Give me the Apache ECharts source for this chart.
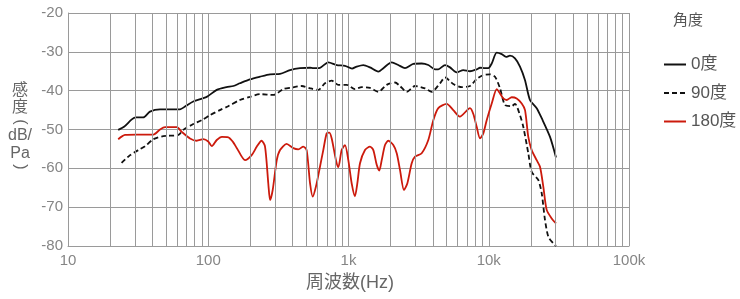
<!DOCTYPE html>
<html><head><meta charset="utf-8">
<script src="https://cdn.jsdelivr.net/npm/echarts@6/dist/echarts.min.js"></script>
<style>html,body{margin:0;padding:0;background:#fff}#c{width:740px;height:299px}</style>
</head><body><div id="c"></div>
<script>
// Frequencies (Hz) and sensitivity (dB/Pa)
const freq0 = [22.8,25.1,28.5,30.5,34.4,38.4,45.3,62.9,68.3,78.2,97.5,115,135,151,168,198,234,276,325,383,451,532,561,626,718,824,944,1060,1144,1275,1423,1632,1771,2033,2265,2529,2898,3326,3707,4139,4368,4876,5294,5908,6585,7350,8204,8661,9400,9930,10500,11400,12370,13280,14170,15380,16700,18140,19680,21970,23850,27340,30170];
const level0 = [-50.1,-49.3,-47.4,-46.9,-46.9,-45.4,-44.8,-44.8,-44.1,-42.8,-41.6,-39.8,-39.1,-38.8,-38.1,-37.1,-36.4,-35.8,-35.7,-34.7,-34.2,-34.1,-34.2,-34.1,-32.7,-33.4,-33.6,-34.3,-33.8,-33.4,-34.0,-35.1,-34.2,-32.7,-33.4,-34.2,-33.1,-33.0,-33.4,-34.5,-34.5,-33.4,-34.0,-35.3,-34.7,-35.0,-34.5,-34.1,-34.2,-34.2,-33.0,-30.2,-30.6,-31.3,-31.0,-31.7,-33.8,-37.3,-42.4,-44.5,-47.1,-51.9,-57.2];

const freq90 = [24.1,27.7,31.7,35.4,40.6,47.8,61.2,66.4,78.2,89.8,103,121,139,168,198,234,291,343,394,464,532,609,680,759,846,971,1112,1242,1423,1632,1872,2146,2329,2600,2980,3512,3920,4490,4876,5585,6414,7350,8204,9145,10200,11080,12030,13060,14570,15380,16700,17630,19140,20240,22550,23850,25180,26590,28850,30170];
const level90 = [-58.6,-56.6,-55.3,-54.3,-52.5,-51.7,-51.4,-50.1,-48.6,-47.6,-46.3,-45.0,-44.0,-42.4,-41.6,-40.9,-41.1,-39.6,-39.2,-38.8,-39.4,-39.8,-38.1,-37.4,-38.5,-38.5,-39.6,-39.1,-39.3,-40.3,-38.5,-37.9,-38.8,-40.3,-38.8,-39.4,-40.3,-38.1,-36.6,-38.3,-39.1,-38.8,-37.0,-36.0,-35.8,-36.4,-39.4,-43.7,-44.0,-43.4,-46.3,-49.3,-56.1,-60.9,-63.0,-66.4,-73.3,-77.6,-79.3,-80.0];

const freq180 = [22.8,25.5,30.9,40.6,45.3,49.2,59.6,64.7,74.1,82.7,92.2,100,106,115,125,139,150,160,183,204,222,240,254,268,276,288,308,325,362,404,439,476,503,532,556,586,626,661,699,730,759,814,846,894,944,997,1054,1112,1156,1208,1311,1423,1503,1589,1658,1725,1821,1922,2086,2207,2329,2487,2626,2823,2980,3326,3707,4024,4368,5012,5585,6222,7350,7762,8204,8661,9145,9670,10500,11400,12030,12700,13430,14570,15820,17180,18140,19140,20240,21970,23200,24490,25890,28110,30170];
const level180 = [-52.5,-51.4,-51.3,-51.3,-50.0,-49.4,-49.4,-50.6,-52.3,-52.9,-52.5,-53.1,-54.3,-52.7,-51.9,-52.0,-53.2,-54.8,-57.9,-56.6,-54.4,-52.9,-54.4,-63.9,-68.2,-65.6,-57.9,-55.3,-53.7,-54.8,-55.1,-54.4,-55.3,-63.9,-67.3,-64.7,-59.6,-55.3,-51.0,-50.8,-52.3,-57.9,-59.7,-55.3,-54.0,-57.9,-63.9,-67.2,-63.9,-58.7,-55.3,-54.4,-55.3,-59.1,-60.6,-57.9,-54.0,-52.9,-54.0,-56.1,-60.4,-65.6,-63.9,-58.7,-57.0,-56.1,-52.7,-47.6,-44.5,-43.4,-45.0,-46.7,-44.5,-46.0,-49.3,-52.3,-51.0,-47.6,-43.3,-39.6,-40.7,-42.0,-42.4,-41.7,-42.0,-43.3,-45.0,-51.9,-55.3,-57.9,-59.6,-64.7,-70.7,-72.9,-74.2];

const seriesNames = ['0度','90度','180度'];
const xTickLabels = {10:'10',100:'100',1000:'1k',10000:'10k',100000:'100k'};
const minorGrid = [20,30,40,50,60,70,80,90,200,300,400,500,600,700,800,900,2000,3000,4000,5000,6000,7000,8000,9000,20000,30000,40000,50000,60000,70000,80000,90000];

const pair = (f, v) => f.map((x, i) => [x, v[i]]);
const FONT = '"Liberation Sans", "Noto Sans CJK JP", sans-serif';
const GRID = '#9a9a9a';
const NAMECOL = '#666';

const chart = echarts.init(document.getElementById('c'));
chart.setOption({
  animation: false,
  textStyle: { fontFamily: FONT },
  grid: { left: 68, right: 111, top: 13, bottom: 53 },
  xAxis: {
    type: 'log', logBase: 10, min: 10, max: 100000,
    axisLine: { show: true, lineStyle: { color: GRID, width: 1 } },
    axisTick: { show: false },
    axisLabel: { color: '#858585', fontSize: 15, margin: 7, fontFamily: FONT,
      formatter: v => xTickLabels[Math.round(v)] || '' },
    splitLine: { show: true, lineStyle: { color: GRID, width: 1 } }
  },
  yAxis: {
    type: 'value', min: -80, max: -20, interval: 10,
    axisLine: { show: true, lineStyle: { color: GRID, width: 1 } },
    axisTick: { show: false },
    axisLabel: { color: '#858585', fontSize: 15, margin: 5, fontFamily: FONT },
    splitLine: { show: true, lineStyle: { color: GRID, width: 1 } }
  },
  legend: {
    orient: 'vertical', left: 658, top: 51,
    itemWidth: 22, itemHeight: 10, itemGap: 11.5,
    itemStyle: { opacity: 0 },
    textStyle: { color: '#555', fontSize: 17, fontFamily: FONT },
    data: seriesNames
  },
  graphic: [
    { type: 'text', left: 673, top: 13, style: { text: '角度', fontSize: 15, fill: '#555', fontFamily: FONT } },
    { type: 'text', x: 20, y: 99, style: { text: '感\n度', fontSize: 16, lineHeight: 17, fill: NAMECOL, align: 'center', verticalAlign: 'middle', fontFamily: FONT } },
    { type: 'text', x: 20, y: 122, rotation: -Math.PI / 2, style: { text: '(', fontSize: 16, fill: NAMECOL, align: 'center', verticalAlign: 'middle', fontFamily: FONT } },
    { type: 'text', x: 20, y: 145, style: { text: 'dB/\nPa', fontSize: 16, lineHeight: 18, fill: NAMECOL, align: 'center', verticalAlign: 'middle', fontFamily: FONT } },
    { type: 'text', x: 20, y: 167, rotation: -Math.PI / 2, style: { text: ')', fontSize: 16, fill: NAMECOL, align: 'center', verticalAlign: 'middle', fontFamily: FONT } },
    { type: 'text', x: 350, y: 283, style: { text: '周波数(Hz)', fontSize: 18, fill: NAMECOL, align: 'center', verticalAlign: 'middle', fontFamily: FONT } }
  ],
  series: [
    { type: 'line', name: '_grid', data: [], silent: true, symbol: 'none',
      markLine: { silent: true, symbol: 'none', label: { show: false },
        lineStyle: { color: GRID, width: 1, type: 'solid' },
        data: minorGrid.map(v => ({ xAxis: v })) }, z: 1 },
    { type: 'line', name: seriesNames[0], data: pair(freq0, level0), symbol: 'none', smooth: 0.25,
      lineStyle: { color: '#111', width: 1.8 }, itemStyle: { color: '#111' }, z: 3 },
    { type: 'line', name: seriesNames[1], data: pair(freq90, level90), symbol: 'none', smooth: 0.25,
      lineStyle: { color: '#111', width: 1.8, type: [5, 3] }, itemStyle: { color: '#111' }, z: 3 },
    { type: 'line', name: seriesNames[2], data: pair(freq180, level180), symbol: 'none', smooth: 0.25,
      lineStyle: { color: '#cc1a0c', width: 1.8 }, itemStyle: { color: '#cc1a0c' }, z: 4 }
  ]
});
</script></body></html>
